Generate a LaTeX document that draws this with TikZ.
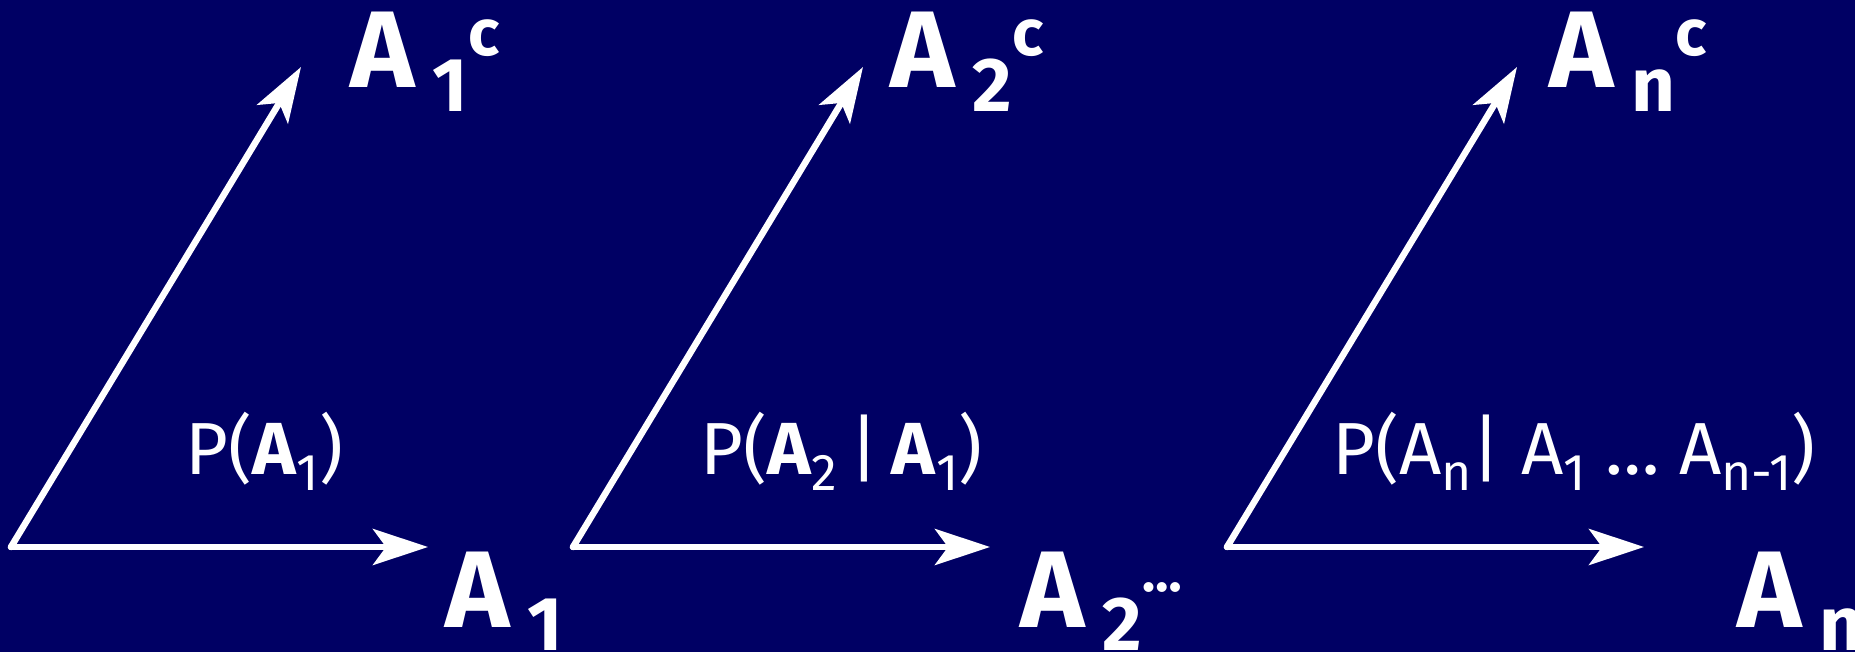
\documentclass[tikz,border=0pt]{standalone}
\usepackage{fontspec}
\setmainfont{Fira Sans}
\usetikzlibrary{arrows.meta}
\definecolor{navy}{RGB}{0,0,100}
\newcommand{\lo}[1]{\raisebox{-0.22em}{\scalebox{0.7}{#1}}}
\newcommand{\hi}[1]{\raisebox{0.3em}{\scalebox{0.6}{#1}}}

\begin{document}
\begin{tikzpicture}[
  arr/.style={white,line width=1.3mm,line cap=round,-{Stealth[length=11mm,width=7.2mm,inset=2.6mm]}},
  big/.style={white,anchor=base west,inner sep=0pt,font=\fontsize{62}{70}\selectfont\bfseries},
  prob/.style={white,anchor=base west,inner sep=0pt,font=\fontsize{42}{48}\selectfont}]
\fill[navy] (0,0) rectangle (37.1,13.04);
\useasboundingbox (0,0) rectangle (37.1,13.04);
% first step
\coordinate (o1) at (0.22,2.10);
\coordinate (h1) at (8.56,2.10);
\coordinate (d1) at (6.02,11.70);
\draw[arr] (o1) -- (h1);
\draw[arr] (o1) -- (d1);
\node[big] (a1c) at (7.00,11.28) {A\,\lo{1}\hi{c}};
\node[big] (a1) at (8.90,0.50) {A\,\lo{1}};
\node[prob] (p1) at (3.70,3.56) {P(\textbf{A}\lo{1})};
% second step
\coordinate (o2) at (11.46,2.10);
\coordinate (h2) at (19.80,2.10);
\coordinate (d2) at (17.26,11.70);
\draw[arr] (o2) -- (h2);
\draw[arr] (o2) -- (d2);
\node[big] (a2c) at (17.80,11.28) {A\,\lo{2}\hi{c}};
\node[big] (a2) at (20.40,0.50) {A\,\lo{2}\raisebox{0.33em}{\scalebox{0.5}{\dots}}};
\node[prob] (p2) at (14.00,3.56) {P(\textbf{A}\lo{2}\,|\,\textbf{A}\lo{1})};
% n-th step
\coordinate (o3) at (24.54,2.10);
\coordinate (h3) at (32.88,2.10);
\coordinate (d3) at (30.34,11.70);
\draw[arr] (o3) -- (h3);
\draw[arr] (o3) -- (d3);
\node[big] (anc) at (30.98,11.28) {A\,\lo{n}\hi{c}};
\node[big] (an) at (34.74,0.50) {A\,\lo{n}};
\node[prob] (p3) at (26.64,3.56) {P(A\lo{n}| A\lo{1} \dots\ A\lo{n-1})};
\end{tikzpicture}
\end{document}
